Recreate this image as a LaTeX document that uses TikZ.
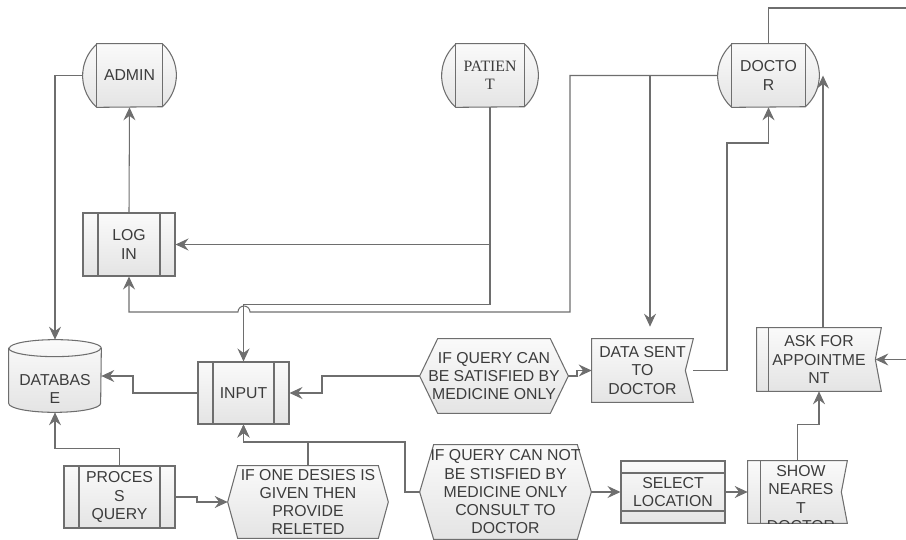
\documentclass[tikz,border=0pt]{standalone}
\usepackage{fontspec}
\setmainfont{Liberation Sans}
\newfontfamily\patfont{Liberation Serif}
\usetikzlibrary{arrows.meta,backgrounds}
\definecolor{edge}{HTML}{6E6E6E}
\definecolor{ink}{HTML}{3C3C3C}
\definecolor{shadetop}{HTML}{FAFAFA}
\definecolor{shadebot}{HTML}{E4E4E4}

\begin{document}
\begin{tikzpicture}[x=0.02cm, y=-0.02cm]
    \tikzset{
        every node/.style={font=\fontsize{9}{10.4}\selectfont, text=ink, align=center, inner sep=0pt},
        n/.style={minimum height=1.26cm},
        skin/.style={draw=edge, line width=0.6pt, top color=shadetop, bottom color=shadebot},
        conn/.style={draw=edge, line width=0.6pt},
        proc/.style={n, skin, path picture={
            \draw[conn] ([xshift=0.3cm]path picture bounding box.north west) -- ([xshift=0.3cm]path picture bounding box.south west)
                ([xshift=-0.3cm]path picture bounding box.north east) -- ([xshift=-0.3cm]path picture bounding box.south east);}},
        arr/.style={conn, -{Stealth[length=0.26cm, width=0.24cm, inset=0.09cm]}}
    }
    \useasboundingbox (0,0) rectangle (906,540);

    %actors
    \node (admin) [n, minimum width=1.86cm] at (129.5,75.5) {ADMIN};
    \node (patient) [n, minimum width=1.92cm, font=\patfont\fontsize{9}{10.4}\selectfont] at (490,75.5) {PATIEN\\T};
    \node (doctor) [n, minimum width=2.02cm] at (768.5,75.5) {DOCTO\\R};

    %processes
    \node (login) [proc, minimum width=1.84cm] at (129,244.5) {LOG\\IN};
    \node (input) [proc, minimum width=1.82cm, minimum height=1.24cm] at (243.5,393) {INPUT};
    \node (query) [proc, minimum width=2.22cm, minimum height=1.24cm] at (119.5,497) {PROCES\\S\\QUERY};

    %database
    \node (db) [minimum width=1.84cm, minimum height=1.44cm, label={[yshift=-0.26cm]center:DATABAS\\E}] at (55,376) {};

    %decisions
    \node (hexone) [minimum width=3.2cm, minimum height=1.44cm] at (308,502) {IF ONE DESIES IS\\GIVEN THEN\\PROVIDE\\RELETED};
    \node (hexyes) [minimum width=2.96cm, minimum height=1.48cm] at (494,376) {IF QUERY CAN\\BE SATISFIED BY\\MEDICINE ONLY};
    \node (hexno) [minimum width=3.42cm, minimum height=1.88cm] at (505.5,492) {IF QUERY CAN NOT\\BE STISFIED BY\\MEDICINE ONLY\\CONSULT TO\\DOCTOR};

    %right side
    \node (datasent) [n, minimum width=2.02cm] at (642.5,370.5) {DATA SENT\\TO\\DOCTOR};
    \node (ask) [n, minimum width=2.48cm] at (819,359.5) {ASK FOR\\APPOINTME\\NT};
    \node (select) [n, skin, minimum width=2.08cm, minimum height=1.24cm, path picture={
        \draw[conn] ([yshift=-0.24cm]path picture bounding box.north west) -- ([yshift=-0.24cm]path picture bounding box.north east)
            ([yshift=0.24cm]path picture bounding box.south west) -- ([yshift=0.24cm]path picture bounding box.south east);}] at (673,492) {SELECT\\LOCATION};
    \node (show) [minimum width=1.98cm, minimum height=1.24cm] at (797.5,492) {};

    %outlines
    \begin{scope}[on background layer]
        \foreach \a in {admin, patient, doctor} {
            \path[skin] ([xshift=0.28cm]\a.north west) -- ([xshift=-0.28cm]\a.north east)
                arc[start angle=48, end angle=-48, radius=0.849cm]
                -- ([xshift=0.28cm]\a.south west)
                arc[start angle=228, end angle=132, radius=0.849cm] -- cycle;
            \draw[conn] ([xshift=0.28cm]\a.north west) -- ([xshift=0.28cm]\a.south west)
                ([xshift=-0.28cm]\a.north east) -- ([xshift=-0.28cm]\a.south east);
        }
        \foreach \h/\ins in {hexone/0.2cm, hexyes/0.36cm, hexno/0.28cm}
            \path[skin] (\h.west) -- ([xshift=\ins]\h.north west) -- ([xshift=-\ins]\h.north east) -- (\h.east)
                -- ([xshift=-\ins]\h.south east) -- ([xshift=\ins]\h.south west) -- cycle;
        \foreach \s/\ins in {datasent/0.16cm, ask/0.12cm, show/0.12cm}
            \path[skin] (\s.north west) -- (\s.north east) -- ([xshift=-\ins]\s.east) -- (\s.south east) -- (\s.south west) -- cycle;
        \draw[conn] ([xshift=0.24cm]ask.north west) -- ([xshift=0.24cm]ask.south west)
            ([xshift=0.26cm]show.north west) -- ([xshift=0.26cm]show.south west);
        \path[skin] ([yshift=-0.17cm]db.north west) -- ([yshift=0.18cm]db.south west)
            arc[start angle=180, end angle=360, x radius=0.92cm, y radius=0.18cm]
            -- ([yshift=-0.17cm]db.north east)
            arc[start angle=0, end angle=180, x radius=0.92cm, y radius=0.17cm] -- cycle;
        \draw[conn] ([yshift=-0.17cm]db.north west) arc[start angle=180, end angle=360, x radius=0.92cm, y radius=0.17cm];
        \begin{scope}
            \clip (show.north west) rectangle (show.south east);
            \node (showtext) at ([xshift=0.07cm, yshift=-0.13cm]show.center) {SHOW\\NEARES\\T\\DOCTOR};
        \end{scope}
    \end{scope}

    %connectors
    \coordinate (asktop) at ([xshift=0.08cm]ask.north);
    \draw[arr] (admin.west) -| (db.north);
    \draw[arr] (login.north) -- (admin.south);
    \draw[arr] (patient.south) |- (login.east);
    \draw[arr] (patient.south) -- ++(0,197) -| (input.north);
    \draw[arr] (doctor.west) -| (570,312) -- (250,312) arc[start angle=0, end angle=180, radius=0.12cm] -| (login.south);
    \draw[arr, shorten >=0.24cm] (doctor.west) -| ([xshift=0.15cm]datasent.north);
    \draw[arr] (datasent.east) -| (727,143) -| (doctor.south);
    \draw[arr] (asktop) -- (asktop |- doctor.east);
    \draw[arr] (doctor.north) |- (930,8) |- ([xshift=-0.12cm]ask.east);

    \draw[arr] (input.west) -- (133,393) |- (db.east);
    \draw[arr] (query.north) -- ++(0,-17) -| (db.south);
    \draw[arr] (query.east) -| (197,502) -- (hexone.west);
    \draw[arr] (hexone.north) -- ++(0,-24) -| (input.south);
    \draw[arr] (hexno.west) -| (405,442) -| (input.south);
    \draw[arr] (hexyes.west) -| (322,393) -- (input.east);
    \draw[arr] (hexyes.east) -| (577,370.5) -- (datasent.west);
    \draw[arr] (hexno.east) -- (select.west);
    \draw[arr] (select.east) -- (show.west);
    \draw[arr] (show.north) -- ++(0,-36) -| (ask.south);
\end{tikzpicture}
\end{document}
